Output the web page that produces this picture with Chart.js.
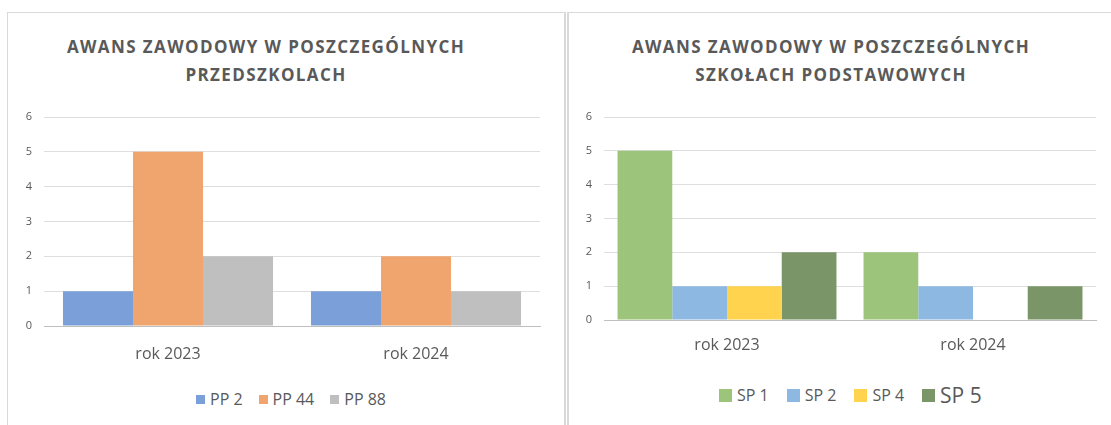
<!DOCTYPE html>
<html>
<head>
<meta charset="utf-8">
<script src="https://cdn.jsdelivr.net/npm/chart.js@4"></script>
<style>
    body { margin: 0; background: #fff; width: 1111px; height: 425px; overflow: hidden; position: relative; font-family: "Open Sans", sans-serif; }
    .panel { position: absolute; top: 12px; height: 420px; box-sizing: border-box; border-top: 1px solid #d9d9d9; }
    #panel-left { left: 7px; width: 559px; border-left: 1px solid #d9d9d9; border-right: 2px solid #d9d9d9; }
    #panel-right { left: 567px; width: 560px; border-left: 2px solid #d9d9d9; }
    .title { position: absolute; top: 33px; text-align: center; font-weight: bold; font-size: 17px; line-height: 28px; letter-spacing: 1.4px; color: #595959; white-space: nowrap; }
    canvas { position: absolute; top: 95px; }
    .legend { position: absolute; display: flex; align-items: center; color: #595959; white-space: nowrap; }
    .legend .item { display: flex; align-items: center; }
    .legend .box { display: inline-block; margin-right: 5px; }
</style>
</head>
<body>
<div class="panel" id="panel-left"></div>
<div class="panel" id="panel-right"></div>

<div class="title" id="title-left" style="left: 66px; width: 400px;">AWANS ZAWODOWY W POSZCZEGÓLNYCH<br>PRZEDSZKOLACH</div>
<div class="title" id="title-right" style="left: 631px; width: 400px;">AWANS ZAWODOWY W POSZCZEGÓLNYCH<br>SZKOŁACH PODSTAWOWYCH</div>

<canvas id="chart-left" width="550" height="270" style="left: 8px;"></canvas>
<canvas id="chart-right" width="543" height="270" style="left: 568px;"></canvas>

<div class="legend" id="legend-left" style="left: 196px; top: 388px;"></div>
<div class="legend" id="legend-right" style="left: 719px; top: 381px;"></div>

<script>
    // lata (kategorie na osi X)
    const years = ["rok 2023", "rok 2024"];

    // przedszkola
    const ppNames = ["PP 2", "PP 44", "PP 88"];
    const pp2 = [1, 1];
    const pp44 = [5, 2];
    const pp88 = [2, 1];

    // szkoły podstawowe
    const spNames = ["SP 1", "SP 2", "SP 4", "SP 5"];
    const sp1 = [5, 2];
    const sp2 = [1, 1];
    const sp4 = [1, 0];
    const sp5 = [2, 1];

    // zakres osi Y
    const yMin = 0;
    const yMax = 6;
    const yStep = 1;

    const ppColors = ["#7b9fd8", "#f0a46e", "#bfbfbf"];
    const spColors = ["#9cc47b", "#8db8e1", "#ffd34d", "#7a9567"];

    const textColor = "#595959";

    function makeDatasets(names, values, colors) {
        return names.map((name, i) => ({
            label: name,
            data: values[i],
            backgroundColor: colors[i],
            borderWidth: 0
        }));
    }

    function makeChart(canvasId, datasets, opts) {
        let ctx = document.getElementById(canvasId).getContext("2d");
        return new Chart(ctx, {
            type: "bar",
            data: { labels: years, datasets: datasets },
            options: {
                responsive: false,
                animation: false,
                layout: { padding: { left: 0, right: opts.padRight, top: 22, bottom: 0 } },
                datasets: { bar: { categoryPercentage: opts.catPct, barPercentage: 1 } },
                plugins: { legend: { display: false }, title: { display: false }, tooltip: { enabled: false } },
                scales: {
                    x: {
                        grid: { display: false },
                        border: { display: true, color: "#bfbfbf", width: 1 },
                        ticks: { color: textColor, font: { family: "Open Sans", size: 16 }, padding: opts.xPad },
                        afterFit: s => { s.height = opts.xHeight; }
                    },
                    y: {
                        min: yMin,
                        max: yMax,
                        grid: { color: "#dedede", drawTicks: false, tickLength: 0 },
                        border: { display: false },
                        ticks: { stepSize: yStep, color: textColor, font: { family: "Open Sans", size: 11 }, padding: 12 },
                        afterFit: s => { s.width = 36; }
                    }
                }
            }
        });
    }

    function renderLegend(id, datasets, boxSize, fontSizes, gap) {
        let el = document.getElementById(id);
        datasets.forEach((ds, i) => {
            let item = document.createElement("span");
            item.className = "item";
            item.style.marginRight = gap + "px";
            item.innerHTML = `<span class="box" style="width:${boxSize}px;height:${boxSize}px;background:${ds.backgroundColor}"></span>` +
                `<span style="font-size:${fontSizes[i]}px">${ds.label}</span>`;
            el.appendChild(item);
        });
    }

    const ppDatasets = makeDatasets(ppNames, [pp2, pp44, pp88], ppColors);
    const spDatasets = makeDatasets(spNames, [sp1, sp2, sp4, sp5], spColors);

    makeChart("chart-left", ppDatasets, { padRight: 18, catPct: 0.847, xPad: 11, xHeight: 39 });
    makeChart("chart-right", spDatasets, { padRight: 15, catPct: 0.89, xPad: 8, xHeight: 45 });

    renderLegend("legend-left", ppDatasets, 9, [16, 16, 16], 16);
    renderLegend("legend-right", spDatasets, 13, [16, 16, 16, 21], 18);
</script>
</body>
</html>
